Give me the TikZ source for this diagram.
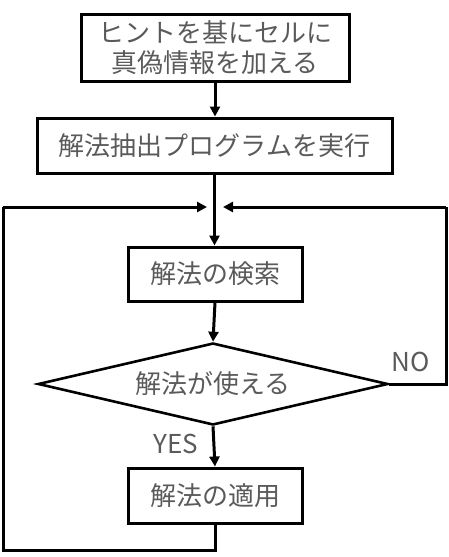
\documentclass[tikz,border=0pt]{standalone}
\usepackage{fontspec}
\setmainfont{Noto Sans CJK JP}
\usetikzlibrary{shapes.geometric,arrows.meta}
\definecolor{txt}{HTML}{5A5A5A}
\tikzset{
  box/.style={draw=black, line width=3pt, rectangle, inner sep=0pt, align=center, text=txt, font=\fontsize{26}{30}\selectfont},
  dec/.style={draw=black, line width=2.6pt, diamond, aspect=4.27, inner sep=0pt, text=txt, font=\fontsize{26}{30}\selectfont},
  arr/.style={line width=3pt, -{Triangle[length=10pt,width=10pt]}},
  ln/.style={line width=3pt},
  lbl/.style={text=txt, font=\fontsize{26}{30}\selectfont, inner sep=0pt}
}
\begin{document}
\begin{tikzpicture}[x=1pt,y=-1pt]
\useasboundingbox (0,0) rectangle (449,557);
\node[box, minimum width=268pt, minimum height=67pt] (b1) at (215,47.5) {ヒントを基にセルに\\真偽情報を加える};
\node[box, minimum width=355pt, minimum height=55pt] (b2) at (214.5,145.5) {解法抽出プログラムを実行};
\node[box, minimum width=174pt, minimum height=54pt] (b3) at (215,274) {解法の検索};
\node[dec, minimum width=350pt, minimum height=82pt] (d) at (213,384) {解法が使える};
\node[box, minimum width=174pt, minimum height=55pt] (b4) at (215,495.5) {解法の適用};
\node[lbl] (no) at (411,362) {NO};
\node[lbl] (yes) at (176,444) {YES};
\coordinate (jl) at (207,207);
\coordinate (jr) at (223,207);
\coordinate (bl) at (215,550);
\coordinate (ll) at (3,550);
\coordinate (lt) at (3,207);
\coordinate (rt) at (446,207);
\coordinate (rb) at (446,384);
\draw[arr] (b1.south) -- (b1.south |- b2.north);
\draw[arr] (b2.south) -- (b2.south |- b3.north);
\draw[arr] (b3.south) -- (d.north);
\draw[arr] (d.south) -- (b4.north);
\draw[ln] (b4.south) -- (bl) -- (ll) -- (lt);
\draw[arr] (lt) -- (jl);
\draw[ln] (d.east) -- (rb) -- (rt);
\draw[arr] (rt) -- (jr);
\end{tikzpicture}
\end{document}
